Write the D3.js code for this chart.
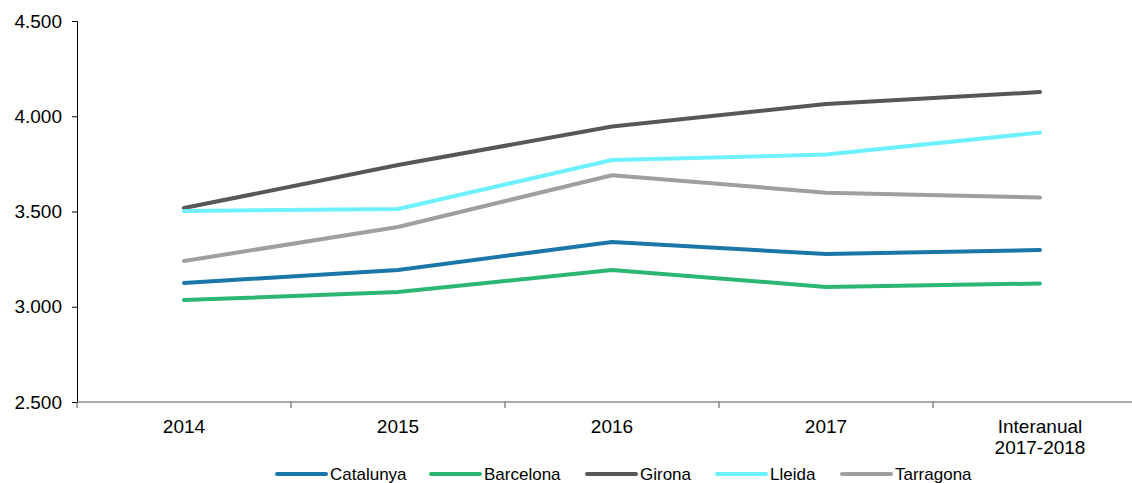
<!DOCTYPE html>
<html>
<head>
<meta charset="utf-8">
<script src="https://cdn.jsdelivr.net/npm/d3@7"></script>
<style>
  body { margin: 0; background: #fff; }
  text { font-family: "Liberation Sans", Arial, sans-serif; fill: #000; }
</style>
</head>
<body>
<svg id="chart" width="1132" height="483"></svg>
<script>
// DATA
var categories = ['2014', '2015', '2016', '2017', 'Interanual\n2017-2018'];
var seriesNames = ['Catalunya', 'Barcelona', 'Girona', 'Lleida', 'Tarragona'];
var seriesColors = ['#1c77a9', '#2cb673', '#575757', '#6ef1ff', '#9d9fa0'];
var catalunya = [3125, 3193, 3340, 3277, 3298];
var barcelona = [3035, 3077, 3193, 3104, 3122];
var girona    = [3518, 3744, 3946, 4064, 4127];
var lleida    = [3503, 3513, 3770, 3799, 3914];
var tarragona = [3240, 3419, 3690, 3599, 3573];
var yTicks = [2500, 3000, 3500, 4000, 4500];

var allSeries = [catalunya, barcelona, girona, lleida, tarragona];

var svg = d3.select('#chart');

// SCALES
var x = d3.scaleBand()
            .domain(categories)
            .range([77, 1147]);
var y = d3.scaleLinear()
            .domain([2500, 4500])
            .range([402, 21]);

// Y-Axis
var yAxis = svg.append('g')
                .attr('transform', 'translate(77,0)')
                .call(d3.axisLeft(y).tickValues(yTicks).tickSize(5).tickPadding(10)
                        .tickFormat(function(d) { return d3.format('.3f')(d / 1000); }));
yAxis.select('.domain').attr('stroke', '#000');
yAxis.selectAll('text').style('font-size', '19px');

// X-Axis
var xAxis = svg.append('g')
                .attr('transform', 'translate(0,402)')
                .call(d3.axisBottom(x).tickSize(0).tickFormat(''));
xAxis.select('.domain').attr('stroke', '#555').attr('d', 'M77,0H1132');
// tick marks at band boundaries
svg.append('g')
    .selectAll('line')
    .data(categories)
    .enter()
    .append('line')
    .attr('x1', function(d) { return x(d); })
    .attr('x2', function(d) { return x(d); })
    .attr('y1', 402)
    .attr('y2', 408)
    .attr('stroke', '#555');
// x labels (can be two lines)
svg.append('g')
    .selectAll('text')
    .data(categories)
    .enter()
    .append('text')
    .attr('text-anchor', 'middle')
    .attr('x', function(d) { return x(d) + x.bandwidth() / 2; })
    .attr('y', 433)
    .style('font-size', '19px')
    .each(function(d) {
        var parts = d.split('\n');
        var t = d3.select(this);
        parts.forEach(function(p, i) {
            t.append('tspan')
             .attr('x', x(d) + x.bandwidth() / 2)
             .attr('dy', i == 0 ? 0 : 21)
             .text(p);
        });
    });

// LINES
var lineGen = d3.line()
                .x(function(d, i) { return x(categories[i]) + x.bandwidth() / 2; })
                .y(function(d) { return y(d); });

allSeries.forEach(function(s, i) {
    svg.append('path')
        .attr('d', lineGen(s))
        .style('fill', 'none')
        .style('stroke', seriesColors[i])
        .style('stroke-width', '4px')
        .style('stroke-linecap', 'round')
        .style('stroke-linejoin', 'round');
});

// LEGEND
var legendX = [277, 431, 587, 717, 842];
var legend = svg.append('g');
seriesNames.forEach(function(name, i) {
    legend.append('line')
        .attr('x1', legendX[i])
        .attr('x2', legendX[i] + 49)
        .attr('y1', 474)
        .attr('y2', 474)
        .style('stroke', seriesColors[i])
        .style('stroke-width', '4px')
        .style('stroke-linecap', 'round');
    legend.append('text')
        .attr('x', legendX[i] + 53)
        .attr('y', 480)
        .style('font-size', '17px')
        .text(name);
});
</script>
</body>
</html>
